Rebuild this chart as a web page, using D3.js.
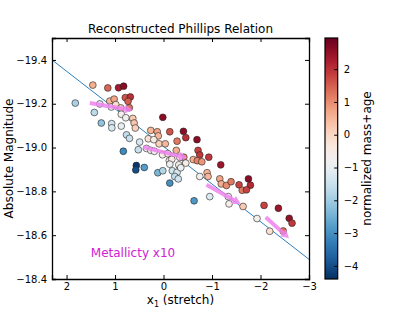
<!DOCTYPE html>
<html>
<head>
<meta charset="utf-8">
<script src="https://cdn.jsdelivr.net/npm/d3@7"></script>
<style>
  body { margin: 0; background: #fff; }
  text { font-family: "DejaVu Sans", sans-serif; fill: #000; }
</style>
</head>
<body>
<svg id="chart"></svg>
<script>
// stretch (x1), absolute magnitude and normalized mass+age for each SN
const stretch = [1.82, 1.458, 1.149, 0.928, 0.823, 0.788, 0.685, 0.732, 1.108, 1.019,
  1.314, 1.077, 0.984, 0.881, 0.706, 1.427, 0.871, 0.778, 0.634, 1.283,
  1.070, 1.066, 0.871, 0.607, 0.582, 0.763, 0.702, 0.493, 0.520, 0.829,
  0.015, 0.263, 0.129, 0.108, -0.129, -0.411, 0.314, 0.201, 0.092, -0.036,
  -0.279, -0.459, -0.690, 0.351, 0.263, 0.190, 0.021, -0.088, -0.263, -0.418,
  -0.335, -0.119, -0.170, -0.129, -0.335, -0.459, -0.315, -0.712, -0.747, -0.933,
  -1.180, -0.613, -0.696, -0.789, 0.561, 0.572, 0.397, 0.118, 0.015, -0.129,
  -0.181, -0.279, -0.356, -0.232, -0.304, -0.747, -0.898, -0.918, -1.160, -1.191,
  -1.297, -1.392, -1.557, -1.751, -1.792, -1.623, -1.710, -0.630, -0.953, -1.335,
  -1.351, -1.640, -2.073, -2.369, -1.928, -2.190, -2.468, -2.592, -2.650];
const absMag = [-19.203, -19.285, -19.272, -19.273, -19.280, -19.228, -19.231, -19.211, -19.212, -19.221,
  -19.199, -19.185, -19.196, -19.181, -19.182, -19.160, -19.152, -19.136, -19.133, -19.112,
  -19.109, -19.090, -19.098, -19.112, -19.089, -19.058, -19.042, -19.025, -18.990, -18.983,
  -19.138, -19.078, -19.072, -19.053, -19.072, -19.074, -19.040, -19.036, -19.017, -19.017,
  -19.029, -19.045, -19.036, -18.996, -18.987, -18.983, -18.967, -18.972, -18.987, -18.956,
  -18.955, -18.940, -18.946, -18.924, -18.914, -18.929, -18.921, -18.987, -18.966, -18.956,
  -18.921, -18.945, -18.940, -18.935, -18.918, -18.898, -18.909, -18.885, -18.894, -18.838,
  -18.894, -18.887, -18.908, -18.868, -18.857, -18.868, -18.885, -18.868, -18.857, -18.834,
  -18.827, -18.844, -18.830, -18.857, -18.828, -18.805, -18.807, -18.757, -18.776, -18.776,
  -18.743, -18.731, -18.736, -18.723, -18.676, -18.618, -18.619, -18.677, -18.655];
const massAge = [-1.9, 0.6, 1.4, 2.3, 2.6, 1.6, 2.0, 1.5, 0.5, 0.7,
  -1.2, -0.9, -0.1, 0.2, 1.3, -1.7, -0.6, -0.8, 0.2, -2.2,
  -1.4, -1.3, -1.0, 0.3, 0.1, -1.6, -1.5, -1.3, -1.5, -3.1,
  2.6, 0.5, 0.7, 0.5, 1.6, 2.6, -0.2, -0.5, 0.1, 0.5,
  1.2, 2.0, 2.6, -0.7, -0.6, -0.8, -0.6, -0.4, 0.6, 1.0,
  -0.6, -0.5, -0.4, -0.9, -0.7, -0.5, -0.6, 1.8, 1.9, 1.9,
  2.4, 0.6, 1.1, 0.9, -4.3, -4.0, -2.8, -2.4, -1.8, -3.0,
  -1.4, -1.3, -0.9, -1.6, -1.4, -0.7, 0.5, 0.5, 0.7, 0.6,
  1.0, 1.2, 1.8, 2.6, 2.1, 1.2, 1.8, -2.9, -1.2, -0.8,
  -0.6, 0.2, 1.8, 2.4, -0.6, -0.2, 1.3, 2.5, 1.9];

// fitted Phillips relation (end points)
const fitX = [2.3, -3.0];
const fitY = [-19.4, -18.49];

// metallicity arrows (x10): start and end
const arrowX0 = [1.52, 0.421, -0.885, -2.108];
const arrowY0 = [-19.203, -19.002, -18.830, -18.682];
const arrowX1 = [0.633, -0.486, -1.592, -2.588];
const arrowY1 = [-19.170, -18.952, -18.743, -18.586];

const xTicks = [2, 1, 0, -1, -2, -3];
const yTicks = [-19.4, -19.2, -19.0, -18.8, -18.6, -18.4];
const cTicks = [2, 1, 0, -1, -2, -3, -4];
const cRange = [2.95, -4.4];

const W = 415, H = 314;
const plot = { left: 52, top: 38, width: 257, height: 241 };
const cbar = { left: 325, width: 12.7 };

const svg = d3.select("#chart").attr("width", W).attr("height", H);

const x = d3.scaleLinear().domain([2.3, -3.0]).range([plot.left, plot.left + plot.width]);
const y = d3.scaleLinear().domain([-19.5, -18.4]).range([plot.top, plot.top + plot.height]);
const color = d3.scaleSequential(cRange, d3.interpolateRdBu);

svg.append("clipPath").attr("id", "clip")
  .append("rect")
  .attr("x", plot.left).attr("y", plot.top)
  .attr("width", plot.width).attr("height", plot.height);

const inner = svg.append("g").attr("clip-path", "url(#clip)");

// fit line
inner.append("line")
  .attr("x1", x(fitX[0])).attr("y1", y(fitY[0]))
  .attr("x2", x(fitX[1])).attr("y2", y(fitY[1]))
  .attr("stroke", "#2c7fc0").attr("stroke-width", 1);

// supernovae
const pts = stretch.map((s, i) => ({ s, m: absMag[i], c: massAge[i] }));
inner.selectAll("circle.sn")
  .data(pts)
  .enter().append("circle")
  .attr("class", "sn")
  .attr("cx", d => x(d.s))
  .attr("cy", d => y(d.m))
  .attr("r", 3.4)
  .attr("fill", d => color(d.c))
  .attr("stroke", "#222")
  .attr("stroke-width", 0.6);

// arrows, built in pixel space
function arrowPath(x0, y0, x1, y1) {
  const dx = x1 - x0, dy = y1 - y0;
  const len = Math.hypot(dx, dy);
  const ux = dx / len, uy = dy / len, nx = -uy, ny = ux;
  const hl = 8, hw = 4.5, sw = 2;
  const bx = x1 - ux * hl, by = y1 - uy * hl;
  const p = [
    [x0 + nx * sw, y0 + ny * sw],
    [bx + nx * sw, by + ny * sw],
    [bx + nx * hw, by + ny * hw],
    [x1, y1],
    [bx - nx * hw, by - ny * hw],
    [bx - nx * sw, by - ny * sw],
    [x0 - nx * sw, y0 - ny * sw]
  ];
  return "M" + p.map(q => q.join(",")).join("L") + "Z";
}
inner.selectAll("path.arrow")
  .data(arrowX0.map((v, i) => i))
  .enter().append("path")
  .attr("class", "arrow")
  .attr("d", i => arrowPath(x(arrowX0[i]), y(arrowY0[i]), x(arrowX1[i]), y(arrowY1[i])))
  .attr("fill", "violet")
  .attr("opacity", 0.85);

inner.append("text")
  .attr("x", x(1.5)).attr("y", y(-18.5))
  .attr("font-size", 12)
  .style("fill", "#d020d0")
  .text("Metallicty x10");

// axes (inward ticks on all sides)
const fmtY = d3.format(".1f");
const fmtX = d3.format("d");
svg.append("g").attr("transform", `translate(0,${plot.top + plot.height})`)
  .call(d3.axisBottom(x).tickValues(xTicks).tickSize(-4).tickPadding(4).tickFormat(fmtX));
svg.append("g").attr("transform", `translate(0,${plot.top})`)
  .call(d3.axisTop(x).tickValues(xTicks).tickSize(-4).tickFormat(""));
svg.append("g").attr("transform", `translate(${plot.left},0)`)
  .call(d3.axisLeft(y).tickValues(yTicks).tickSize(-4).tickPadding(5).tickFormat(fmtY));
svg.append("g").attr("transform", `translate(${plot.left + plot.width},0)`)
  .call(d3.axisRight(y).tickValues(yTicks).tickSize(-4).tickFormat(""));

svg.selectAll(".domain").attr("stroke", "#000").attr("stroke-width", 1.3);
svg.selectAll(".tick line").attr("stroke", "#000");
svg.selectAll(".tick text").attr("font-size", 10).attr("font-family", "DejaVu Sans");

// labels
svg.append("text")
  .attr("x", plot.left + plot.width / 2).attr("y", 33)
  .attr("text-anchor", "middle").attr("font-size", 12)
  .text("Reconstructed Phillips Relation");

const xl = svg.append("text")
  .attr("x", plot.left + plot.width / 2).attr("y", 304)
  .attr("text-anchor", "middle").attr("font-size", 12);
xl.append("tspan").text("x");
xl.append("tspan").attr("font-size", 8).attr("dy", 3).text("1");
xl.append("tspan").attr("dy", -3).text(" (stretch)");

svg.append("text")
  .attr("transform", `translate(13,${plot.top + plot.height / 2}) rotate(-90)`)
  .attr("text-anchor", "middle").attr("font-size", 12)
  .text("Absolute Magnitude");

// colorbar
const c = d3.scaleLinear().domain(cRange).range([plot.top, plot.top + plot.height]);
const grad = svg.append("defs").append("linearGradient")
  .attr("id", "cgrad").attr("x1", 0).attr("y1", 0).attr("x2", 0).attr("y2", 1);
d3.range(0, 1.0001, 0.05).forEach(t => {
  grad.append("stop").attr("offset", t)
    .attr("stop-color", color(cRange[0] + t * (cRange[1] - cRange[0])));
});
svg.append("rect")
  .attr("x", cbar.left).attr("y", plot.top)
  .attr("width", cbar.width).attr("height", plot.height)
  .attr("fill", "url(#cgrad)").attr("stroke", "#000").attr("stroke-width", 1.2);

const cAxis = svg.append("g").attr("transform", `translate(${cbar.left + cbar.width},0)`)
  .call(d3.axisRight(c).tickValues(cTicks).tickSize(-3.5).tickPadding(6).tickFormat(fmtX));
cAxis.select(".domain").remove();
cAxis.selectAll(".tick line").attr("stroke", "#000");
cAxis.selectAll(".tick text").attr("font-size", 10).attr("font-family", "DejaVu Sans");

svg.append("text")
  .attr("transform", `translate(371,${plot.top + plot.height / 2}) rotate(-90)`)
  .attr("text-anchor", "middle").attr("font-size", 12)
  .text("normalized mass+age");
</script>
</body>
</html>
